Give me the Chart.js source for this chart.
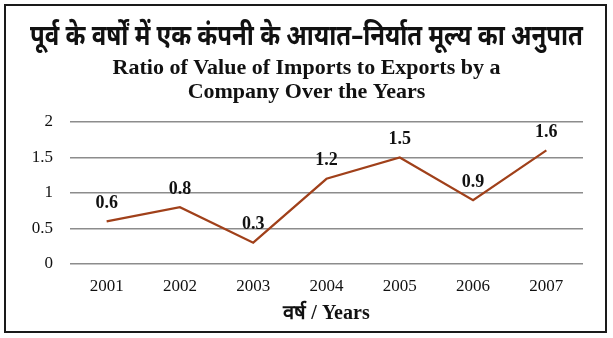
<!DOCTYPE html>
<html>
<head>
<meta charset="utf-8">
<script src="https://cdn.jsdelivr.net/npm/chart.js"></script>
<style>
  html, body { margin: 0; padding: 0; background: #fff; }
  #wrap { position: relative; width: 613px; height: 338px; }
  #frame { position: absolute; left: 4px; top: 4px; width: 599px; height: 325px; border: 2px solid #1a1a1a; pointer-events: none; }
</style>
</head>
<body>
<div id="wrap">
  <canvas id="grafico" width="613" height="338"></canvas>
  <div id="frame"></div>
</div>
<script>
const anni = ['2001', '2002', '2003', '2004', '2005', '2006', '2007'];
const rapporto = [0.6, 0.8, 0.3, 1.2, 1.5, 0.9, 1.6];
const tickY = [0, 0.5, 1, 1.5, 2];

const titoloHindi = 'पूर्व के वर्षों में एक कंपनी के आयात–निर्यात मूल्य का अनुपात';
const titoloEng = ['Ratio of Value of Imports to Exports by a', 'Company Over the Years'];
const assex = 'वर्ष / Years';

const serif = "'Liberation Serif', 'Times New Roman', serif";

// etichette sopra i punti
const etichette = {
    id: 'etichette',
    afterDatasetsDraw(chart) {
        const ctx = chart.ctx;
        const meta = chart.getDatasetMeta(0);
        ctx.save();
        ctx.font = 'bold 18px ' + serif;
        ctx.fillStyle = '#111';
        ctx.textAlign = 'center';
        ctx.textBaseline = 'middle';
        meta.data.forEach((p, i) => {
            ctx.fillText(String(rapporto[i]), p.x, p.y - 18);
        });
        ctx.restore();
    }
};

new Chart(document.getElementById('grafico'), {
    type: 'line',
    data: {
        labels: anni,
        datasets: [{
            data: rapporto,
            borderColor: '#a0401a',
            borderWidth: 2.2,
            pointRadius: 0,
            tension: 0,
            fill: false
        }]
    },
    options: {
        responsive: false,
        animation: false,
        layout: { padding: { left: 30, right: 30, top: 0, bottom: 0 } },
        plugins: {
            legend: { display: false },
            tooltip: { enabled: false },
            title: {
                display: true,
                text: titoloHindi,
                color: '#111',
                font: { family: "'Noto Sans', sans-serif", size: 28, weight: 'bold', lineHeight: '32px' },
                padding: { top: 21, bottom: 0 }
            },
            subtitle: {
                display: true,
                text: titoloEng,
                color: '#111',
                font: { family: serif, size: 22, weight: 'bold', lineHeight: '24px' },
                padding: { top: 3, bottom: 18 }
            }
        },
        scales: {
            x: {
                offset: true,
                grid: { display: false, drawTicks: false },
                border: { display: false },
                ticks: { color: '#111', font: { family: serif, size: 17 }, padding: 12 },
                title: {
                    display: true,
                    text: assex,
                    color: '#111',
                    font: { family: serif, size: 20, weight: 'bold', lineHeight: '22px' },
                    padding: { top: 0, bottom: 13 }
                },
                afterFit(scale) { scale.height = 74; }
            },
            y: {
                min: 0,
                max: 2,
                afterBuildTicks(scale) { scale.ticks = tickY.map(v => ({ value: v })); },
                grid: { color: '#8c8c8c', lineWidth: 1.6, drawTicks: false },
                border: { display: false },
                ticks: { color: '#111', font: { family: serif, size: 17 }, padding: 17, callback: v => String(v) },
                afterFit(scale) { scale.width = 40; }
            }
        }
    },
    plugins: [etichette]
});
</script>
</body>
</html>
